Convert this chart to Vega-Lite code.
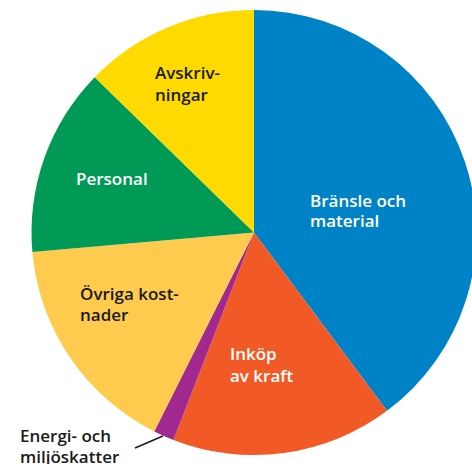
{
  "$schema": "https://vega.github.io/schema/vega-lite/v6.json",
  "width": 436,
  "height": 463,
  "autosize": {"type": "none"},
  "padding": {"left": 36, "top": 1, "right": 0, "bottom": 0},
  "background": "white",
  "config": {"view": {"stroke": null}},
  "layer": [
    {
      "data": {"values": [
        {"cat": "Bränsle och material", "share": 39.8, "order": 1},
        {"cat": "Inköp av kraft", "share": 16.1, "order": 2},
        {"cat": "Energi- och miljöskatter", "share": 1.5, "order": 3},
        {"cat": "Övriga kostnader", "share": 16.2, "order": 4},
        {"cat": "Personal", "share": 13.7, "order": 5},
        {"cat": "Avskrivningar", "share": 12.7, "order": 6}
      ]},
      "mark": {"type": "arc", "outerRadius": 222.5, "stroke": null},
      "encoding": {
        "theta": {"field": "share", "type": "quantitative", "stack": true},
        "order": {"field": "order", "type": "quantitative"},
        "color": {
          "field": "cat", "type": "nominal", "legend": null,
          "scale": {
            "domain": ["Bränsle och material", "Inköp av kraft", "Energi- och miljöskatter", "Övriga kostnader", "Personal", "Avskrivningar"],
            "range": ["#0082C6", "#F15A26", "#A0288F", "#FFCB4F", "#009A57", "#FFDA00"]
          }
        }
      }
    },
    {
      "data": {"values": [
        {"text": "Bränsle och", "x": 56, "y": 30.5, "tone": "light"},
        {"text": "material", "x": 56, "y": 10.5, "tone": "light"},
        {"text": "Avskriv-", "x": -99, "y": 159, "tone": "dark"},
        {"text": "ningar", "x": -99, "y": 137, "tone": "dark"},
        {"text": "Personal", "x": -178, "y": 52.5, "tone": "light"},
        {"text": "Övriga kost-", "x": -174, "y": -62.5, "tone": "dark"},
        {"text": "nader", "x": -174, "y": -83.5, "tone": "dark"},
        {"text": "Inköp", "x": -24, "y": -122.5, "tone": "light"},
        {"text": "av kraft", "x": -24, "y": -144, "tone": "light"},
        {"text": "Energi- och", "x": -234, "y": -204.5, "tone": "dark"},
        {"text": "miljöskatter", "x": -234, "y": -225.5, "tone": "dark"}
      ]},
      "mark": {"type": "text", "align": "left", "baseline": "middle", "font": "Open Sans", "fontSize": 17, "fontWeight": 600},
      "encoding": {
        "x": {"field": "x", "type": "quantitative", "scale": {"domain": [-218, 218], "nice": false, "zero": false}, "axis": null},
        "y": {"field": "y", "type": "quantitative", "scale": {"domain": [-231.5, 231.5], "nice": false, "zero": false}, "axis": null},
        "text": {"field": "text", "type": "nominal"},
        "color": {"field": "tone", "type": "nominal", "legend": null, "scale": {"domain": ["light", "dark"], "range": ["#FFFFFF", "#1A1A1A"]}}
      }
    },
    {
      "data": {"values": [
        {"x": -119, "y": -215.5, "x2": -91, "y2": -203.5}
      ]},
      "mark": {"type": "rule", "color": "#1A1A1A", "strokeWidth": 1.5},
      "encoding": {
        "x": {"field": "x", "type": "quantitative"},
        "y": {"field": "y", "type": "quantitative"},
        "x2": {"field": "x2"},
        "y2": {"field": "y2"}
      }
    }
  ],
  "resolve": {"scale": {"color": "independent"}}
}
